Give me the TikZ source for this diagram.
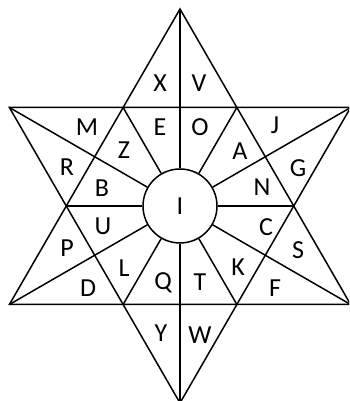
\documentclass[tikz,border=0pt]{standalone}
\usepackage{fontspec}
\setmainfont{Carlito}
\begin{document}
\begin{tikzpicture}[x=1pt,y=1pt,
  ln/.style={line width=1.5pt, line join=miter},
  lbl/.style={font=\fontsize{26}{26}\selectfont, inner sep=0pt}]
\useasboundingbox (0,0) rectangle (349,401);
\clip (0,0) rectangle (349,401);
\coordinate (O) at (180,195);
\foreach \a in {30,90,...,330} {\path (O) ++(\a:197) coordinate (o\a);}
\foreach \a in {0,60,...,300} {\path (O) ++(\a:113.7) coordinate (i\a);}
\draw[ln] (o90) -- (o210) -- (o330) -- cycle;
\draw[ln] (o30) -- (o150) -- (o270) -- cycle;
\node[circle, draw, line width=1.5pt, minimum size=74pt, inner sep=0pt, lbl] (c) at (O) {I};
\foreach \a in {30,90,...,330} {\draw[ln] (c.\a) -- (o\a);}
\foreach \a in {0,60,...,300} {\draw[ln] (c.\a) -- (i\a);}
\node[lbl, anchor=base] (title) at (140,405) {g};
\node[lbl] (X) at (160,318) {X};
\node[lbl] (V) at (199,318) {V};
\node[lbl] (M) at (87,274) {M};
\node[lbl] (E) at (160,274) {E};
\node[lbl] (Oo) at (200,274) {O};
\node[lbl] (J) at (275,276) {J};
\node[lbl] (Z) at (124,251) {Z};
\node[lbl] (A) at (240,250) {A};
\node[lbl] (R) at (67,234) {R};
\node[lbl] (G) at (298,233) {G};
\node[lbl] (N) at (262,214) {N};
\node[lbl] (B) at (102,213) {B};
\node[lbl] (U) at (103,175) {U};
\node[lbl] (C) at (266,174) {C};
\node[lbl] (P) at (67,153) {P};
\node[lbl] (S) at (298,151) {S};
\node[lbl] (L) at (124,133) {L};
\node[lbl] (K) at (238,134) {K};
\node[lbl] (D) at (88,113) {D};
\node[lbl] (Q) at (163,118) {Q};
\node[lbl] (T) at (200,119) {T};
\node[lbl] (F) at (275,113) {F};
\node[lbl] (Y) at (161,68) {Y};
\node[lbl] (W) at (200,66) {W};
\end{tikzpicture}
\end{document}
